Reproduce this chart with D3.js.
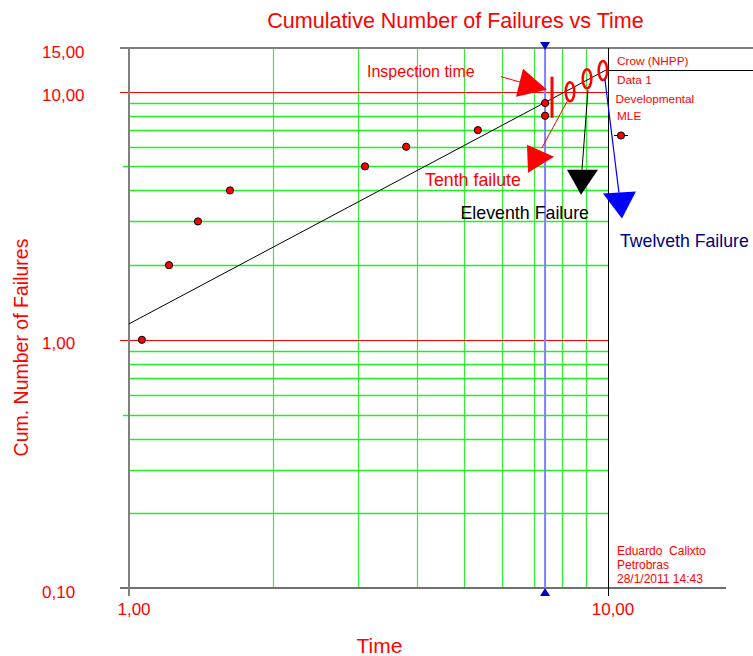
<!DOCTYPE html>
<html>
<head>
<meta charset="utf-8">
<script src="https://cdn.jsdelivr.net/npm/d3@7"></script>
<style>
  html, body { margin: 0; padding: 0; background: #fff; }
  svg { display: block; font-family: "Liberation Sans", Arial, sans-serif; }
</style>
</head>
<body>
<svg id="chart" width="753" height="656"></svg>
<script>
// ---- data ----
const failureTimes = [1.064, 1.212, 1.393, 1.625, 3.11, 3.79, 5.35, 7.39, 7.39];
const cumFailures  = [1, 2, 3, 4, 5, 6, 7, 8, 9];
const crowTimes = [1, 10];
const crowValues = [1.16, 12.35];
const inspectionTime = 7.39;
const predictedTimes = [8.33, 9.04, 9.76];
const predictedValues = [10.0, 11.28, 12.16];
const predictedLabels = ["Tenth failute", "Eleventh Failure", "Twelveth Failure"];
const xTickValues = [1, 10];
const xTickLabels = ["1,00", "10,00"];
const yTickValues = [0.1, 1, 10, 15];
const yTickLabels = ["0,10", "1,00", "10,00", "15,00"];
const legendLabels = ["Crow (NHPP)", "Data 1", "Developmental", "MLE"];
const footerLines = ["Eduardo  Calixto", "Petrobras", "28/1/2011 14:43"];

// ---- layout ----
const svg = d3.select("#chart");
const L = 129, R = 608, T = 48, B = 588;
const x = d3.scaleLog().domain([1, 10]).range([L, R]);
const y = d3.scaleLog().domain([0.1, 15]).range([B, T]);
const RED = "#ff0000";

// grid
const xMinor = [2,3,4,5,6,7,8,9];
const yMinor = [];
[0.1, 1].forEach(d => { for (let k = 2; k <= 9; k++) yMinor.push(+(d*k).toFixed(2)); });

const grid = svg.append("g");
grid.selectAll(".vg").data(xMinor).enter().append("line")
  .attr("x1", d => Math.round(x(d)) + 0.5).attr("x2", d => Math.round(x(d)) + 0.5)
  .attr("y1", T).attr("y2", B)
  .attr("stroke", "#33ee33").attr("stroke-width", 1.2);
grid.selectAll(".hg").data(yMinor).enter().append("line")
  .attr("x1", d => (Math.abs(Math.log10(d) % 1 - Math.log10(5)) < 1e-6 || Math.abs((Math.log10(d)+1) % 1 - Math.log10(5)) < 1e-6) ? L - 6 : L)
  .attr("x2", R)
  .attr("y1", d => Math.round(y(d)) + 0.5).attr("y2", d => Math.round(y(d)) + 0.5)
  .attr("stroke", "#22ee22").attr("stroke-width", 1.3);
// decade lines (red)
grid.selectAll(".dg").data([1, 10]).enter().append("line")
  .attr("x1", L - 9).attr("x2", R)
  .attr("y1", d => Math.round(y(d)) + 0.5).attr("y2", d => Math.round(y(d)) + 0.5)
  .attr("stroke", RED).attr("stroke-width", 1);

// frame / axes
const frame = svg.append("g");
frame.append("line").attr("x1", L - 9).attr("x2", 753).attr("y1", y(15)).attr("y2", y(15))
  .attr("stroke", "#808080").attr("stroke-width", 2);
frame.append("line").attr("x1", L - 9).attr("x2", 726).attr("y1", y(0.1)).attr("y2", y(0.1))
  .attr("stroke", "#707070").attr("stroke-width", 2);
frame.append("line").attr("x1", x(1)).attr("x2", x(1)).attr("y1", y(15)).attr("y2", y(0.1) + 8)
  .attr("stroke", "#808080").attr("stroke-width", 2);
frame.append("line").attr("x1", Math.round(x(10)) + 0.5).attr("x2", Math.round(x(10)) + 0.5)
  .attr("y1", y(15)).attr("y2", y(0.1) + 8)
  .attr("stroke", "#000").attr("stroke-width", 1);
// legend separator line (Crow sample)
frame.append("line").attr("x1", x(10)).attr("x2", 753).attr("y1", 70.5).attr("y2", 70.5)
  .attr("stroke", "#000").attr("stroke-width", 1);

// inspection time line
svg.append("line").attr("x1", x(inspectionTime)).attr("x2", x(inspectionTime))
  .attr("y1", y(15)).attr("y2", y(0.1))
  .attr("stroke", "#7f7fff").attr("stroke-width", 2);
const ix = x(inspectionTime);
svg.append("path").attr("d", `M${ix-5},${T-6}L${ix+5},${T-6}L${ix},${T+2}Z`).attr("fill", "#0000c8");
svg.append("path").attr("d", `M${ix-5},${B+8}L${ix+5},${B+8}L${ix},${B}Z`).attr("fill", "#0000c8");

// tick labels
svg.selectAll(".yl").data(yTickValues).enter().append("text")
  .attr("x", 42).attr("y", d => y(d) + 9.5)
  .attr("fill", RED).attr("font-size", 17)
  .text((d, i) => yTickLabels[i]);
svg.selectAll(".xl").data(xTickValues).enter().append("text")
  .attr("x", d => x(d) + 5).attr("y", B + 27)
  .attr("text-anchor", "middle")
  .attr("fill", RED).attr("font-size", 17)
  .text((d, i) => xTickLabels[i]);

// Crow line
const line = d3.line().x(d => x(d[0])).y(d => y(d[1]));
svg.append("path").datum(crowTimes.map((t, i) => [t, crowValues[i]]))
  .attr("d", line).attr("fill", "none").attr("stroke", "#000").attr("stroke-width", 1);

// data points
svg.selectAll(".pt").data(failureTimes).enter().append("circle")
  .attr("cx", d => x(d)).attr("cy", (d, i) => y(cumFailures[i]))
  .attr("r", 3.6).attr("fill", RED).attr("stroke", "#000").attr("stroke-width", 1);

// predicted failure ellipses
svg.selectAll(".el").data(predictedTimes).enter().append("ellipse")
  .attr("cx", d => x(d)).attr("cy", (d, i) => y(predictedValues[i]))
  .attr("rx", 4.3).attr("ry", 9.5)
  .attr("fill", "none").attr("stroke", RED).attr("stroke-width", 2.5);

// inspection bar
const barTime = 7.64;
svg.append("line").attr("x1", x(barTime)).attr("x2", x(barTime))
  .attr("y1", y(11.5)).attr("y2", y(7.85))
  .attr("stroke", RED).attr("stroke-width", 3);

// annotation arrows (offsets relative to anchors)
const annots = [
  { ax: x(barTime), ay: y(11.5), color: RED, lw: 1,
    line: [[-51, 0], [-30, 6]], tri: [[-29, -8], [-36, 20], [-5, 13]] },
  { ax: x(predictedTimes[0]), ay: y(predictedValues[0]), color: RED, lw: 1,
    line: [[-3, 10], [-28, 56]], tri: [[-43, 53], [-42, 81], [-16, 65]] },
  { ax: x(predictedTimes[1]), ay: y(predictedValues[1]), color: "#000", lw: 1,
    line: [[1, 11], [-5, 91]], tri: [[-20, 91], [11, 91], [-6, 116]] },
  { ax: x(predictedTimes[2]), ay: y(predictedValues[2]), color: "#0000ff", lw: 1.2,
    line: [[2, 9], [16, 122]], tri: [[0, 123], [33, 121], [19, 148]] }
];
annots.forEach(a => {
  svg.append("line")
    .attr("x1", a.ax + a.line[0][0]).attr("y1", a.ay + a.line[0][1])
    .attr("x2", a.ax + a.line[1][0]).attr("y2", a.ay + a.line[1][1])
    .attr("stroke", a.color).attr("stroke-width", a.lw);
  svg.append("path")
    .attr("d", "M" + a.tri.map(p => (a.ax + p[0]) + "," + (a.ay + p[1])).join("L") + "Z")
    .attr("fill", a.color);
});

// annotation texts
svg.append("text").attr("x", 367).attr("y", 77).attr("fill", RED).attr("font-size", 16)
  .text("Inspection time");
svg.append("text").attr("x", 425).attr("y", 186).attr("fill", RED).attr("font-size", 17.8)
  .text(predictedLabels[0]);
svg.append("text").attr("x", 460.5).attr("y", 219).attr("fill", "#000").attr("font-size", 17.8)
  .text(predictedLabels[1]);
svg.append("text").attr("x", 620).attr("y", 246.5).attr("fill", "#000080").attr("font-size", 17.7)
  .text(predictedLabels[2]);

// title & axis titles
svg.append("text").attr("x", 455.5).attr("y", 28).attr("text-anchor", "middle")
  .attr("fill", RED).attr("font-size", 21.5).text("Cumulative Number of Failures vs Time");
svg.append("text").attr("transform", "translate(27.5,347.5) rotate(-90)")
  .attr("text-anchor", "middle").attr("fill", RED).attr("font-size", 19.5)
  .text("Cum. Number of Failures");
svg.append("text").attr("x", 379.5).attr("y", 653).attr("text-anchor", "middle")
  .attr("fill", RED).attr("font-size", 21).text("Time");

// legend
const legY = [65, 83.5, 103, 120];
const legX = [617, 617, 615.5, 617];
svg.selectAll(".lg").data(legendLabels).enter().append("text")
  .attr("x", (d, i) => legX[i]).attr("y", (d, i) => legY[i])
  .attr("fill", RED).attr("font-size", 11.8).text(d => d);
svg.append("line").attr("x1", 614).attr("x2", 628).attr("y1", 135.5).attr("y2", 135.5)
  .attr("stroke", "#000").attr("stroke-width", 1);
svg.append("circle").attr("cx", 621).attr("cy", 135.5).attr("r", 3.6)
  .attr("fill", RED).attr("stroke", "#000").attr("stroke-width", 1);

// footer
svg.selectAll(".ft").data(footerLines).enter().append("text")
  .attr("x", 617).attr("y", (d, i) => 555 + i * 14)
  .attr("fill", RED).attr("font-size", 12).text(d => d)
  .attr("xml:space", "preserve").style("white-space", "pre");
</script>
</body>
</html>
